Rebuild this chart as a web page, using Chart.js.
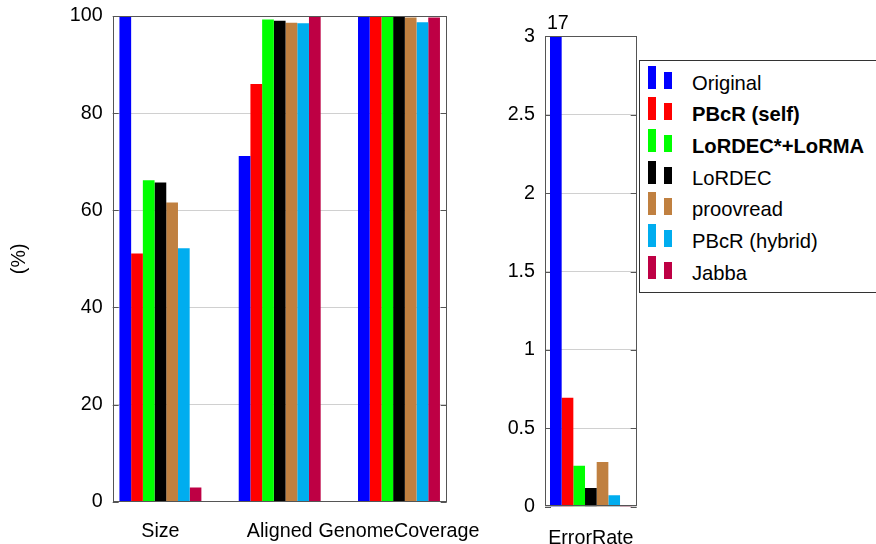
<!DOCTYPE html>
<html>
<head>
<meta charset="utf-8">
<script src="https://cdn.jsdelivr.net/npm/chart.js@4.4.1/dist/chart.umd.min.js"></script>
<style>
  body { margin: 0; background: #fff; }
  #wrap { position: relative; width: 876px; height: 544px; overflow: hidden; font-family: 'Liberation Sans', Arial, sans-serif; }
  canvas { position: absolute; top: 0; }
  #legend { position: absolute; left: 639px; top: 60px; width: 260px; height: 233px; border: 1px solid #333; box-sizing: border-box; background: #fff; }
  .row { position: absolute; left: 0; height: 0; }
  .mk { position: absolute; width: 8px; }
  .txt { position: absolute; left: 52px; top: -12px; font-size: 20.2px; line-height: 24px; white-space: nowrap; color: #000; }
</style>
</head>
<body>
<div id="wrap">
  <canvas id="leftChart" width="500" height="554" style="left:0;top:-10px"></canvas>
  <canvas id="rightChart" width="200" height="544" style="left:500px"></canvas>
  <div id="legend"></div>
</div>
<script>
// categorias e series
const categories = ['Size', 'Aligned', 'GenomeCoverage'];
const seriesNames = ['Original', 'PBcR (self)', 'LoRDEC*+LoRMA', 'LoRDEC', 'proovread', 'PBcR (hybrid)', 'Jabba'];
const seriesColors = ['#0000ff', '#ff0000', '#00ff00', '#000000', '#c08040', '#00adef', '#be0044'];
const boldSeries = ['PBcR (self)', 'LoRDEC*+LoRMA'];

// valores em % (Size, Aligned, GenomeCoverage)
const original    = [100, 71.2, 100];
const pbcrSelf    = [51.1, 86.0, 100];
const lordecLorma = [66.2, 99.3, 100];
const lordec      = [65.7, 99.0, 100];
const proovread   = [61.6, 98.6, 99.7];
const pbcrHybrid  = [52.2, 98.5, 98.7];
const jabba       = [2.9, 100, 99.7];
const percentSeries = [original, pbcrSelf, lordecLorma, lordec, proovread, pbcrHybrid, jabba];

// ErrorRate (mesma ordem das series)
const errorLabel = ['ErrorRate'];
const errorRate = [17, 0.695, 0.261, 0.119, 0.285, 0.073, 0.006];

const leftTicks = [0, 20, 40, 60, 80, 100];
const rightTicks = [0, 0.5, 1, 1.5, 2, 2.5, 3];

Chart.defaults.font.family = "'Liberation Sans', Arial, sans-serif";
Chart.defaults.font.size = 19.7;
Chart.defaults.color = '#000';

// marcas dos ticks nas duas bordas (estilo gnuplot)
const tickMarks = {
  id: 'tickMarks',
  beforeDatasetsDraw(chart) {
    const { ctx, chartArea: a, scales: { y } } = chart;
    ctx.save();
    ctx.strokeStyle = '#555';
    ctx.lineWidth = 1;
    y.ticks.forEach(t => {
      const py = Math.round(y.getPixelForValue(t.value)) + 0.5;
      ctx.beginPath();
      ctx.moveTo(a.left, py); ctx.lineTo(a.left + 6, py);
      ctx.moveTo(a.right - 6, py); ctx.lineTo(a.right, py);
      ctx.stroke();
    });
    ctx.restore();
  }
};
const frame = {
  id: 'frame',
  afterDatasetsDraw(chart) {
    const { ctx, chartArea: a } = chart;
    ctx.save();
    ctx.strokeStyle = '#555';
    ctx.lineWidth = 1;
    ctx.strokeRect(Math.round(a.left) + 0.5, Math.round(a.top) + 0.5, Math.round(a.width) - 1, Math.round(a.height) - 1);
    ctx.restore();
  }
};
// valor escrito acima das barras cortadas
const overflowLabels = {
  id: 'overflowLabels',
  afterDraw(chart) {
    const { ctx, chartArea: a, scales: { y } } = chart;
    ctx.save();
    ctx.font = "19.7px 'Liberation Sans', Arial, sans-serif";
    ctx.fillStyle = '#000';
    ctx.textAlign = 'center';
    ctx.textBaseline = 'bottom';
    chart.data.datasets.forEach((ds, i) => {
      const meta = chart.getDatasetMeta(i);
      ds.data.forEach((v, j) => {
        if (v > y.max) ctx.fillText(String(v), meta.data[j].x + 2, a.top - 3);
      });
    });
    ctx.restore();
  }
};

new Chart(document.getElementById('leftChart').getContext('2d'), {
  type: 'bar',
  data: {
    datasets: percentSeries.map((vals, i) => ({
      label: seriesNames[i],
      data: vals.map((v, j) => ({ x: j, y: v })),
      backgroundColor: seriesColors[i],
      borderWidth: 0,
      categoryPercentage: 0.687,
      barPercentage: 1
    }))
  },
  options: {
    responsive: false,
    animation: false,
    layout: { padding: { top: 26, right: 53.3, left: 0, bottom: 0 } },
    plugins: { legend: { display: false }, tooltip: { enabled: false } },
    scales: {
      x: {
        type: 'linear',
        offset: false,
        min: -0.4,
        max: 2.4,
        afterBuildTicks: axis => { axis.ticks = categories.map((c, i) => ({ value: i })); },
        afterFit: s => { s.height = 42.3; },
        grid: { display: false },
        border: { display: false },
        ticks: { callback: v => categories[v], maxRotation: 0, autoSkip: false, padding: 10 }
      },
      y: {
        min: 0,
        max: 100,
        afterBuildTicks: axis => { axis.ticks = leftTicks.map(v => ({ value: v })); },
        afterFit: s => { s.width = 112.7; },
        grid: { color: '#d0d0d0', drawTicks: false },
        border: { display: false },
        ticks: { padding: 10 },
        title: { display: true, text: '(%)', padding: { top: 8, bottom: 0 } }
      }
    }
  },
  plugins: [tickMarks, frame]
});

new Chart(document.getElementById('rightChart').getContext('2d'), {
  type: 'bar',
  data: {
    labels: errorLabel,
    datasets: errorRate.map((v, i) => ({
      label: seriesNames[i],
      data: [v],
      backgroundColor: seriesColors[i],
      borderWidth: 0,
      categoryPercentage: 0.891,
      barPercentage: 1
    }))
  },
  options: {
    responsive: false,
    animation: false,
    layout: { padding: { top: 36.3, right: 63.3, left: 0, bottom: 0 } },
    plugins: { legend: { display: false }, tooltip: { enabled: false } },
    scales: {
      x: {
        afterFit: s => { s.height = 37.3; },
        grid: { display: false },
        border: { display: false },
        ticks: { maxRotation: 0, autoSkip: false, padding: 12 }
      },
      y: {
        min: 0,
        max: 3,
        afterBuildTicks: axis => { axis.ticks = rightTicks.map(v => ({ value: v })); },
        ticks: { padding: 10, callback: v => String(v) },
        afterFit: s => { s.width = 45; },
        grid: { color: '#d0d0d0', drawTicks: false },
        border: { display: false }
      }
    }
  },
  plugins: [tickMarks, frame, overflowLabels]
});

// legenda em HTML
const legend = document.getElementById('legend');
seriesNames.forEach((name, i) => {
  const row = document.createElement('div');
  row.className = 'row';
  row.style.top = (21.5 + 31.7 * i) + 'px';
  const m1 = document.createElement('div');
  m1.className = 'mk';
  m1.style.cssText = 'left:8px;top:-17px;height:23px;background:' + seriesColors[i];
  const m2 = document.createElement('div');
  m2.className = 'mk';
  m2.style.cssText = 'left:24px;top:-11px;height:17px;background:' + seriesColors[i];
  const t = document.createElement('div');
  t.className = 'txt';
  t.textContent = name;
  if (boldSeries.includes(name)) t.style.fontWeight = 'bold';
  row.append(m1, m2, t);
  legend.appendChild(row);
});
</script>
</body>
</html>
